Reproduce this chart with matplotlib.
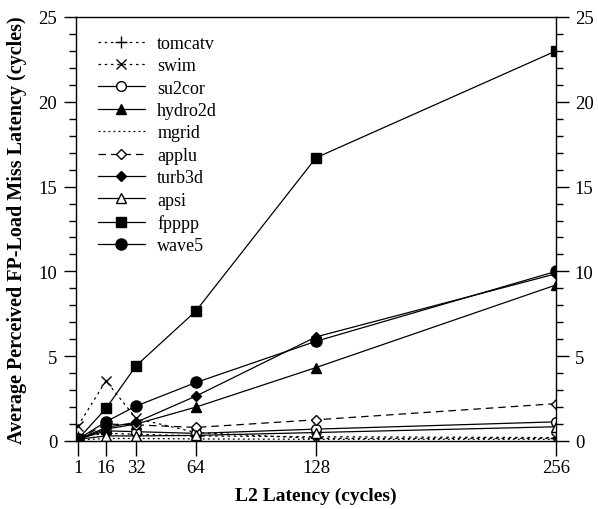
import matplotlib
matplotlib.use("Agg")
import matplotlib.pyplot as plt
from matplotlib.ticker import MultipleLocator

plt.rcParams['font.family'] = ['Liberation Serif', 'DejaVu Serif']

# data
latency = [1, 16, 32, 64, 128, 256]
tomcatv = [0.25, 0.45, 0.4, 0.3, 0.25, 0.2]
swim = [0.88, 3.55, 1.33, 0.5, 0.15, 0.15]
su2cor = [0.1, 0.6, 0.55, 0.45, 0.7, 1.13]
hydro2d = [0.1, 0.7, 1.0, 2.0, 4.33, 9.2]
mgrid = [0.05, 0.15, 0.15, 0.12, 0.1, 0.1]
applu = [0.1, 1.0, 0.95, 0.8, 1.25, 2.2]
turb3d = [0.1, 0.8, 1.1, 2.65, 6.14, 9.86]
apsi = [0.1, 0.3, 0.3, 0.33, 0.5, 0.84]
fpppp = [0.1, 1.92, 4.43, 7.67, 16.7, 23.0]
wave5 = [0.1, 1.14, 2.06, 3.45, 5.88, 10.0]

fig = plt.figure(figsize=(5.98, 5.10), dpi=100)
ax = fig.add_axes([76 / 598, 68 / 510, 480 / 598, 424 / 510])

lw = 0.9
ax.plot(latency, tomcatv, color='black', lw=lw, ls=(0, (2, 3)), marker='+', ms=8, mew=1, label='tomcatv')
ax.plot(latency, swim, color='black', lw=lw, ls=(0, (2, 3)), marker='x', ms=7, mew=1, label='swim')
ax.plot(latency, su2cor, color='black', lw=lw, marker='o', ms=7, mfc='white', mew=1, label='su2cor')
ax.plot(latency, hydro2d, color='black', lw=lw, marker='^', ms=7, label='hydro2d')
ax.plot(latency, mgrid, color='black', lw=lw, ls=(0, (1.5, 2.5)), label='mgrid')
ax.plot(latency, applu, color='black', lw=lw, ls=(0, (6, 4)), marker='D', ms=5, mfc='white', mew=1, label='applu')
ax.plot(latency, turb3d, color='black', lw=lw, marker='D', ms=5, label='turb3d')
ax.plot(latency, apsi, color='black', lw=lw, marker='^', ms=6.5, mfc='white', mew=1, label='apsi')
ax.plot(latency, fpppp, color='black', lw=lw, marker='s', ms=7.5, label='fpppp')
ax.plot(latency, wave5, color='black', lw=lw, marker='o', ms=8, label='wave5')

ax.set_xlim(0, 256)
ax.set_ylim(0, 25)
ax.set_xticks(latency)
ax.yaxis.set_major_locator(MultipleLocator(5))
ax.yaxis.set_minor_locator(MultipleLocator(1))
ax.tick_params(axis='x', direction='out', length=11, width=1, labelsize=13.5, pad=2)
ax.tick_params(axis='y', which='major', direction='out', length=9, width=1, labelsize=13.5, pad=4.5,
               left=True, right=True, labelleft=True, labelright=True)
ax.tick_params(axis='y', which='minor', direction='out', length=5, width=1, left=True, right=True)
for s in ax.spines.values():
    s.set_linewidth(1)

ax.set_xlabel('L2 Latency (cycles)', fontsize=14, fontweight='bold', labelpad=8)
ax.set_ylabel('Average Perceived FP-Load Miss Latency (cycles)', fontsize=14.5, fontweight='bold', labelpad=8)

ax.legend(loc='upper left', bbox_to_anchor=(0.03, 0.975), frameon=False, fontsize=13,
          handlelength=2.6, handletextpad=0.7, labelspacing=0.3, borderaxespad=0)

fig.savefig('out.png', dpi=100)
